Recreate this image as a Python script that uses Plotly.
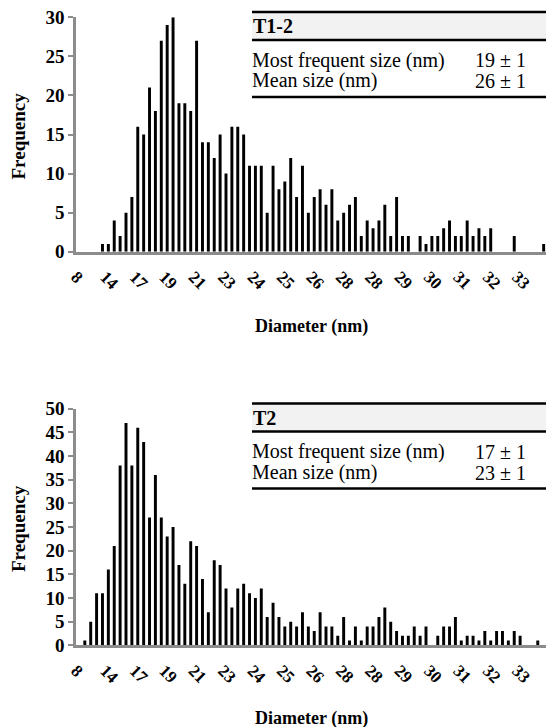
import plotly.graph_objects as go

# ---------------- data ----------------
categories = list(range(80))
tick_positions = list(range(0, 80, 5))
tick_labels = ["8", "14", "17", "19", "21", "23", "24", "25", "26", "28",
               "28", "29", "30", "31", "32", "33"]

t12_counts = [0, 0, 0, 0, 1, 1, 4, 2, 5, 7,
              16, 15, 21, 18, 27, 29, 30, 19, 19, 18,
              27, 14, 14, 12, 15, 10, 16, 16, 15, 11,
              11, 11, 5, 11, 8, 9, 12, 7, 11, 5,
              7, 8, 6, 8, 4, 5, 6, 7, 2, 4,
              3, 4, 6, 2, 7, 2, 2, 0, 2, 1,
              2, 2, 3, 4, 2, 2, 4, 2, 3, 2,
              3, 0, 0, 0, 2, 0, 0, 0, 0, 1]

t2_counts = [0, 1, 5, 11, 11, 16, 21, 38, 47, 38,
             46, 43, 27, 36, 27, 23, 25, 17, 13, 22,
             21, 14, 7, 18, 17, 12, 8, 12, 13, 11,
             10, 12, 6, 9, 6, 4, 5, 4, 7, 4,
             3, 7, 4, 4, 2, 6, 1, 4, 1, 4,
             4, 6, 8, 5, 3, 2, 2, 4, 2, 4,
             0, 2, 4, 4, 6, 1, 2, 2, 1, 3,
             1, 3, 3, 1, 3, 2, 0, 0, 1, 0]

tables = [
    {"name": "T1-2", "mode": "19 ± 1", "mean": "26 ± 1"},
    {"name": "T2", "mode": "17 ± 1", "mean": "23 ± 1"},
]

# ---------------- layout helpers ----------------
W, H = 546, 727
L = 76
PW = W - L


def px(x):
    return (x - L) / PW


def py(y):
    return 1 - y / H


AXIS_GRAY = "#8c8c8c"
SERIF = "Liberation Serif"

fig = go.Figure()
fig.add_trace(go.Bar(x=categories, y=t12_counts, xaxis="x", yaxis="y",
                     marker=dict(color="black", line=dict(width=0)), width=0.5,
                     showlegend=False, hoverinfo="x+y"))
fig.add_trace(go.Bar(x=categories, y=t2_counts, xaxis="x2", yaxis="y2",
                     marker=dict(color="black", line=dict(width=0)), width=0.5,
                     showlegend=False, hoverinfo="x+y"))

tickfont = dict(family=SERIF, size=19, color="black", weight="bold")

xcommon = dict(range=[-0.5, 79.4], tickmode="array", tickvals=tick_positions,
               ticktext=tick_labels, tickangle=45, ticks="", showline=True,
               linecolor=AXIS_GRAY, linewidth=2.5, showgrid=False, zeroline=False,
               tickfont=dict(family=SERIF, size=17, color="black", weight="bold"),
               ticklabelstandoff=6, ticklabelshift=-3,
               domain=[0, 1], fixedrange=True, automargin=False)
ycommon = dict(dtick=5, tick0=0, showline=True, linecolor=AXIS_GRAY, linewidth=2.5,
               ticks="outside", ticklen=5, tickwidth=2, tickcolor=AXIS_GRAY,
               showgrid=False, zeroline=False, tickfont=tickfont, fixedrange=True,
               automargin=False)

# chart panels: (y pixel of top value, y pixel of zero, top value)
panels = [(17.3, 251.7, 30), (408.8, 645.3, 50)]

fig.update_layout(
    width=W, height=H,
    margin=dict(l=L, r=0, t=0, b=0, autoexpand=False),
    paper_bgcolor="white", plot_bgcolor="white",
    xaxis=dict(anchor="y", **xcommon),
    yaxis=dict(anchor="x", range=[0, panels[0][2]],
               domain=[py(panels[0][1]), py(panels[0][0])], **ycommon),
    xaxis2=dict(anchor="y2", **xcommon),
    yaxis2=dict(anchor="x2", range=[0, panels[1][2]],
                domain=[py(panels[1][1]), py(panels[1][0])], **ycommon),
    bargap=0.5,
)


def note(text, x, y, size=20, bold=False, xanchor="center", angle=0):
    f = dict(family=SERIF, size=size, color="black")
    if bold:
        f["weight"] = "bold"
    return dict(text=text, x=px(x), y=py(y), xref="paper", yref="paper",
                xanchor=xanchor, yanchor="middle", showarrow=False,
                textangle=angle, font=f, borderpad=0)


annotations = []
shapes = []
for k, (ytop, yzero, ymax) in enumerate(panels):
    off = ytop - panels[0][0]
    annotations.append(note("Frequency", 18, (ytop + yzero) / 2 + 2, size=19,
                            bold=True, angle=-90))
    annotations.append(note("Diameter (nm)", 311, 327 + off, size=18, bold=True))
    # table
    t = tables[k]
    x0, x1 = px(252), px(W)
    shapes.append(dict(type="rect", xref="paper", yref="paper", x0=x0, x1=x1,
                       y0=py(40 + off), y1=py(12 + off), fillcolor="#f2f2f2",
                       line=dict(width=0), layer="below"))
    for yl in (12, 40, 97):
        shapes.append(dict(type="line", xref="paper", yref="paper", x0=x0, x1=x1,
                           y0=py(yl + off), y1=py(yl + off),
                           line=dict(color="black", width=2.5)))
    annotations.append(note(t["name"], 252, 26 + off, bold=True, xanchor="left"))
    for label, val, yy in [("Most frequent size (nm)", t["mode"], 60),
                           ("Mean size (nm)", t["mean"], 81)]:
        annotations.append(note(label, 251, yy + off, xanchor="left"))
        annotations.append(note(val, 527, yy + off, xanchor="right"))

fig.update_layout(annotations=annotations, shapes=shapes)
fig.write_html("out.html", config={"displayModeBar": False})
